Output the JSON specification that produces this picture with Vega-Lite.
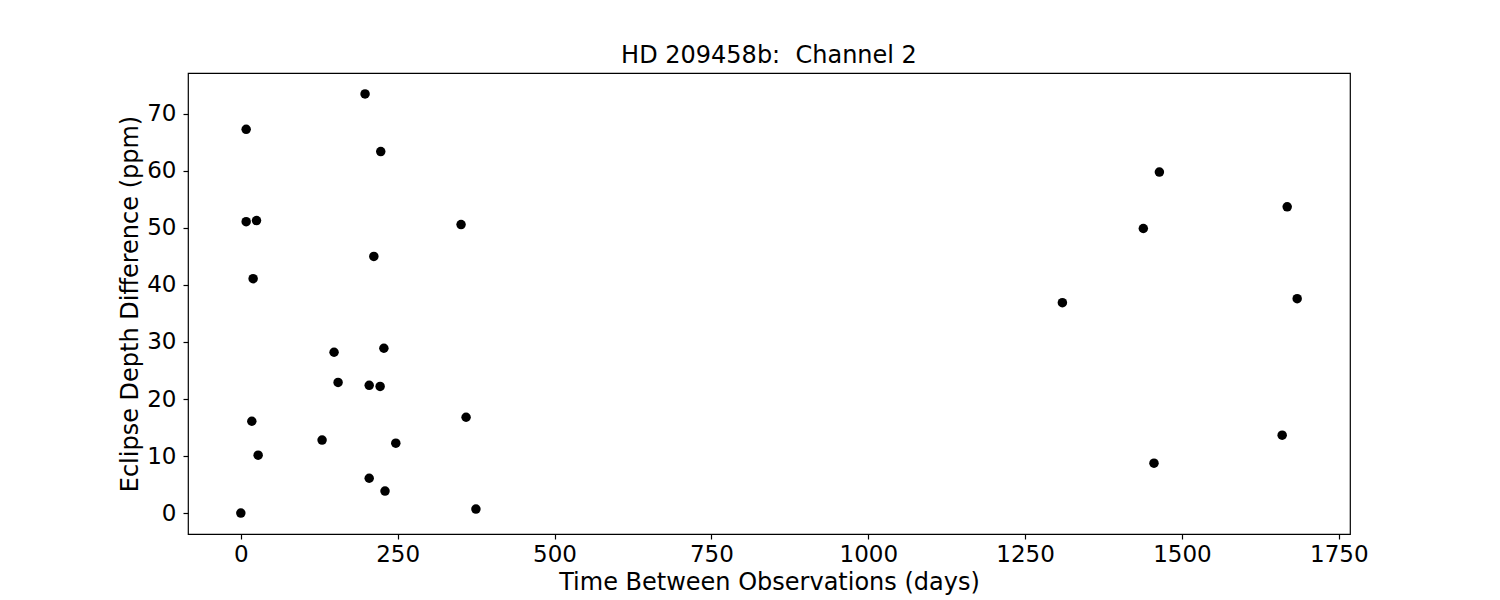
{
  "$schema": "https://vega.github.io/schema/vega-lite/v6.json",
  "width": 1162,
  "height": 461,
  "autosize": {"type": "none"},
  "padding": {"left": 188, "top": 73, "right": 150, "bottom": 66},
  "background": "white",
  "config": {
    "view": {"stroke": "black", "strokeWidth": 1.2},
    "font": "DejaVu Sans",
    "axis": {
      "grid": false,
      "domain": false,
      "tickColor": "black",
      "tickSize": 5,
      "tickWidth": 1.2,
      "labelColor": "black",
      "titleColor": "black",
      "labelFont": "DejaVu Sans",
      "titleFont": "DejaVu Sans",
      "labelFontSize": 23,
      "titleFontSize": 24,
      "titleFontWeight": "normal"
    }
  },
  "title": {
    "text": "HD 209458b:\u00a0 Channel 2",
    "font": "DejaVu Sans",
    "fontSize": 24,
    "fontWeight": "normal",
    "color": "black",
    "anchor": "middle",
    "baseline": "alphabetic",
    "offset": -14
  },
  "data": {
    "values": [
      {"t": 198, "d": 73.5},
      {"t": 8.5, "d": 67.3},
      {"t": 223, "d": 63.4},
      {"t": 8.5, "d": 51.1},
      {"t": 25, "d": 51.3},
      {"t": 351, "d": 50.6},
      {"t": 212, "d": 45.0},
      {"t": 19.6, "d": 41.1},
      {"t": 148.6, "d": 28.2},
      {"t": 228, "d": 28.9},
      {"t": 155, "d": 22.9},
      {"t": 204.6, "d": 22.4},
      {"t": 222, "d": 22.2},
      {"t": 17.5, "d": 16.1},
      {"t": 359, "d": 16.8},
      {"t": 129.5, "d": 12.8},
      {"t": 247, "d": 12.25},
      {"t": 27.6, "d": 10.15},
      {"t": 204.6, "d": 6.1},
      {"t": 229.8, "d": 3.85},
      {"t": 0, "d": 0},
      {"t": 374.7, "d": 0.7},
      {"t": 1464, "d": 59.8},
      {"t": 1667.7, "d": 53.7},
      {"t": 1438.4, "d": 49.9},
      {"t": 1309.4, "d": 36.9},
      {"t": 1683.6, "d": 37.6},
      {"t": 1659.7, "d": 13.65},
      {"t": 1455.4, "d": 8.75}
    ]
  },
  "mark": {"type": "point", "filled": true, "shape": "circle", "color": "black", "opacity": 1, "size": 90},
  "encoding": {
    "x": {
      "field": "t",
      "type": "quantitative",
      "title": "Time Between Observations (days)",
      "scale": {"domain": [-84.2, 1767.8], "nice": false, "zero": false},
      "axis": {"values": [0, 250, 500, 750, 1000, 1250, 1500, 1750], "format": "d", "labelPadding": 4, "titlePadding": 4}
    },
    "y": {
      "field": "d",
      "type": "quantitative",
      "title": "Eclipse Depth Difference (ppm)",
      "scale": {"domain": [-3.675, 77.175], "nice": false, "zero": false},
      "axis": {"values": [0, 10, 20, 30, 40, 50, 60, 70], "format": "d", "labelPadding": 7, "titlePadding": 4}
    }
  }
}
